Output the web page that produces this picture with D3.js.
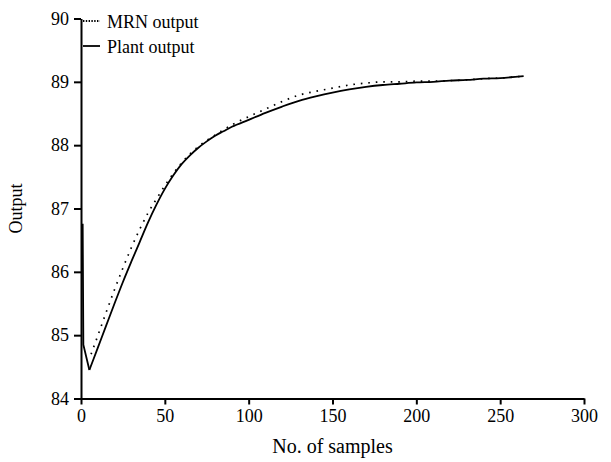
<!DOCTYPE html>
<html>
<head>
<meta charset="utf-8">
<script src="https://cdnjs.cloudflare.com/ajax/libs/d3/7.8.5/d3.min.js"></script>
<style>
  body { margin: 0; background: #fff; }
  svg text { font-family: "Liberation Serif", "Times New Roman", serif; fill: #000; }
</style>
</head>
<body>
<svg id="svg" width="611" height="462"></svg>
<script>
// Data
var plantSamples = [1, 1.4, 5, 10, 15, 20, 25, 30, 35, 40, 45, 50, 55, 60, 65, 70, 75, 80, 85, 90, 100, 110, 120, 130, 140, 150, 160, 170, 180, 190, 200, 210, 220, 230, 240, 250, 264];
var plantOutput = [86.76, 84.85, 84.45, 84.80, 85.15, 85.50, 85.84, 86.16, 86.47, 86.78, 87.06, 87.31, 87.52, 87.70, 87.84, 87.96, 88.06, 88.15, 88.22, 88.29, 88.40, 88.51, 88.61, 88.70, 88.77, 88.83, 88.88, 88.92, 88.95, 88.97, 88.99, 89.00, 89.02, 89.03, 89.05, 89.06, 89.09];

var mrnSamples = [6, 10, 15, 20, 25, 30, 35, 40, 45, 50, 55, 60, 70, 80, 90, 100, 110, 120, 130, 140, 150, 160, 170, 180, 190, 200, 210, 220, 230, 240, 250, 264];
var mrnOutput = [84.70, 84.99, 85.36, 85.72, 86.06, 86.38, 86.67, 86.93, 87.15, 87.36, 87.55, 87.72, 87.98, 88.16, 88.32, 88.45, 88.57, 88.69, 88.79, 88.85, 88.90, 88.95, 88.98, 89.00, 89.00, 89.01, 89.01, 89.02, 89.03, 89.05, 89.06, 89.09];

var xTicks = [0, 50, 100, 150, 200, 250, 300];
var yTicks = [84, 85, 86, 87, 88, 89, 90];
var legendLabels = ["MRN output", "Plant output"];

var serif = "'Liberation Serif', 'Times New Roman', serif";
var svg = d3.select("svg");

// Scales
var xScale = d3.scaleLinear().domain([0, 300]).range([81, 584]);
var yScale = d3.scaleLinear().domain([84, 90]).range([398.5, 18.5]);

// Axes
var xAxis = svg.append("g")
    .attr("transform", "translate(0," + yScale(84) + ")")
    .call(d3.axisBottom(xScale).tickValues(xTicks).tickFormat(d3.format("d"))
        .tickSizeInner(6).tickSizeOuter(0).tickPadding(5));

var yAxis = svg.append("g")
    .attr("transform", "translate(" + xScale(0) + ",0)")
    .call(d3.axisLeft(yScale).tickValues(yTicks).tickFormat(d3.format("d"))
        .tickSizeInner(7).tickSizeOuter(0).tickPadding(5));

svg.selectAll("g").attr("font-family", serif).attr("font-size", 18);

svg.selectAll(".domain, .tick line")
    .attr("stroke", "#000")
    .attr("stroke-width", 2);

svg.selectAll(".tick text")
    .attr("fill", "#000");

// Axis titles
svg.append("text")
    .attr("x", (xScale(0) + xScale(300)) / 2)
    .attr("y", 453)
    .attr("text-anchor", "middle")
    .attr("font-size", 20)
    .text("No. of samples");

svg.append("text")
    .attr("transform", "translate(22," + yScale(87) + ") rotate(-90)")
    .attr("text-anchor", "middle")
    .attr("font-size", 18)
    .text("Output");

// Lines
var line = d3.line()
    .x(function (d) { return xScale(d[0]); })
    .y(function (d) { return yScale(d[1]); })
    .curve(d3.curveMonotoneX);

var plantLine = d3.line()
    .x(function (d) { return xScale(d[0]); })
    .y(function (d) { return yScale(d[1]); });

var plantData = plantSamples.map(function (s, i) { return [s, plantOutput[i]]; });
var mrnData = mrnSamples.map(function (s, i) { return [s, mrnOutput[i]]; });

// plant curve: vertical jump and first drop drawn straight, the rest smooth
svg.append("path")
    .attr("d", plantLine(plantData.slice(0, 3)))
    .attr("fill", "none")
    .attr("stroke", "#000")
    .attr("stroke-width", 1.8);

svg.append("path")
    .attr("d", line(plantData.slice(2)))
    .attr("fill", "none")
    .attr("stroke", "#000")
    .attr("stroke-width", 1.8);

svg.append("path")
    .attr("d", line(mrnData))
    .attr("fill", "none")
    .attr("stroke", "#000")
    .attr("stroke-width", 1.7)
    .attr("stroke-dasharray", "1.6,5.9");

// Legend
var legend = svg.append("g");
legendLabels.forEach(function (label, i) {
    var y = 21 + i * 25;
    legend.append("line")
        .attr("x1", 83).attr("x2", 100)
        .attr("y1", y).attr("y2", y)
        .attr("stroke", "#000")
        .attr("stroke-width", 1.8)
        .attr("stroke-dasharray", i === 0 ? "1.4,1.4" : null);
    legend.append("text")
        .attr("x", 107)
        .attr("y", y + 7)
        .attr("font-size", 18)
        .text(label);
});
</script>
</body>
</html>
